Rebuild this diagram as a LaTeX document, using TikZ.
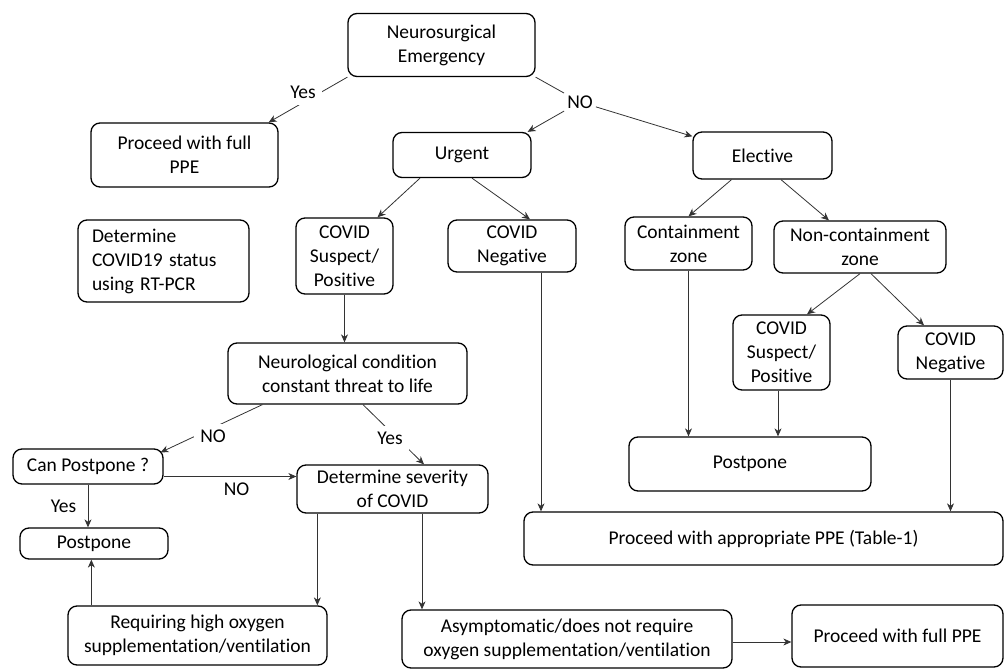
\documentclass[tikz,border=0pt]{standalone}
\usepackage{fontspec}
\setmainfont{Carlito}[Ligatures=NoCommon]
\usetikzlibrary{arrows.meta}

\begin{document}
\begin{tikzpicture}[x=1pt, y=-1pt,
    every node/.style={font=\fontsize{19.5}{24}\selectfont},
    box/.style={draw, rounded corners=9pt, line width=1.3pt, inner sep=0pt, align=center},
    lbl/.style={fill=white, text=black, inner sep=6pt},
    conn/.style={color=black!80, line width=0.8pt},
    >={Stealth[length=8pt,width=7pt,inset=2.5pt]}]
\useasboundingbox (0,0) rectangle (1005,669);

\node[box, minimum width=187, minimum height=63] (emergency) at (441.5,45) {Neurosurgical\\Emergency};
\node[box, minimum width=187, minimum height=64] (fullppe_a) at (184.5,155) {Proceed with full\\PPE};
\node[box, minimum width=138, minimum height=45] (urgent) at (462,155) {Urgent};
\node[box, minimum width=139, minimum height=47] (elective) at (762.5,155.5) {Elective};
\node[box, text width=143, inner xsep=14, minimum height=82, align=left] (rtpcr) at (163.5,261) {Determine\\COVID19 status\\using RT-PCR};
\node[box, minimum width=97, minimum height=76] (covidsp_a) at (344.5,256) {COVID\\Suspect/\\Positive};
\node[box, minimum width=128, minimum height=52] (covidneg_a) at (512,246) {COVID\\Negative};
\node[box, minimum width=127, minimum height=53] (containment) at (688.5,243.5) {Containment\\zone};
\node[box, minimum width=172, minimum height=52] (noncontainment) at (860,247) {Non-containment\\zone};
\node[box, minimum width=97, minimum height=75] (covidsp_b) at (781.5,352.5) {COVID\\Suspect/\\Positive};
\node[box, minimum width=105, minimum height=53] (covidneg_b) at (950.5,352.5) {COVID\\Negative};
\node[box, minimum width=239, minimum height=61] (threat) at (347.5,373.5) {Neurological condition\\constant threat to life};
\node[box, minimum width=150, minimum height=35] (canpostpone) at (88,466.5) {Can Postpone ?};
\node[box, minimum width=191, minimum height=48] (severity) at (392.5,489) {Determine severity\\of COVID};
\node[box, minimum width=148, minimum height=31] (postpone_a) at (94,543.5) {Postpone};
\node[box, minimum width=242, minimum height=54] (postpone_b) at (750,464) {Postpone};
\node[box, minimum width=479, minimum height=53] (table) at (763.5,538.5) {Proceed with appropriate PPE (Table-1)};
\node[box, minimum width=259, minimum height=59] (highoxygen) at (197.5,635.5) {Requiring high oxygen\\supplementation/ventilation};
\node[box, minimum width=330, minimum height=58] (asymptomatic) at (567,639) {Asymptomatic/does not require\\oxygen supplementation/ventilation};
\node[box, minimum width=211, minimum height=62] (fullppe_b) at (897.5,636) {Proceed with full PPE};
\node[lbl, inner sep=3pt] (no_a) at (580,102) {NO};

\path[->, conn]
    (emergency.south west) edge node[lbl, xshift=-5pt, yshift=7pt] {Yes} ([xshift=-10pt]fullppe_a.north east)
    (emergency.south east) edge[-] (no_a)
    (no_a) edge ([xshift=-4pt]urgent.north east)
    (no_a) edge ([yshift=-5pt]elective.north west)
    ([xshift=-42pt]urgent.south) edge ([xshift=33pt]covidsp_a.north)
    ([xshift=10pt]urgent.south) edge ([xshift=18pt]covidneg_a.north)
    ([xshift=-31pt]elective.south) edge (containment.north)
    ([xshift=18.5pt]elective.south) edge ([xshift=-31pt]noncontainment.north)
    (noncontainment.south) edge ([xshift=25.5pt]covidsp_b.north)
    ([xshift=11pt]noncontainment.south) edge ([xshift=-26.5pt]covidneg_b.north)
    (covidsp_a.south) edge (covidsp_a.south |- threat.north)
    ([xshift=35pt]threat.south west) edge node[lbl, xshift=1.5pt, yshift=-8pt] {NO} ([xshift=-3pt,yshift=-4pt]canpostpone.north east)
    ([xshift=15.5pt]threat.south) edge node[lbl, xshift=-3.5pt, yshift=-3.5pt] {Yes} ([xshift=31.5pt]severity.north)
    ([yshift=-10pt]canpostpone.east) edge node[below, pos=.55, yshift=-3pt, text=black] {NO} ([yshift=-10pt]canpostpone.east -| severity.west)
    (canpostpone.south) edge node[left, xshift=-8pt, text=black] {Yes} (canpostpone.south |- postpone_a.north)
    ([xshift=21pt]severity.south west) edge ([xshift=21pt]severity.south west |- highoxygen.north)
    ([xshift=29.5pt]severity.south) edge ([xshift=29.5pt]severity.south |- asymptomatic.north)
    ([xshift=24pt]highoxygen.north west) edge ([xshift=24pt]highoxygen.north west |- postpone_a.south)
    ([yshift=-3pt]asymptomatic.east) edge ([yshift=-3pt]asymptomatic.east -| fullppe_b.west)
    ([xshift=29pt]covidneg_a.south) edge ([xshift=29pt]covidneg_a.south |- table.north)
    (containment.south) edge (containment.south |- postpone_b.north)
    ([xshift=-3.5pt]covidsp_b.south) edge ([xshift=-3.5pt]covidsp_b.south |- postpone_b.north)
    (covidneg_b.south) edge (covidneg_b.south |- table.north);
\end{tikzpicture}
\end{document}
